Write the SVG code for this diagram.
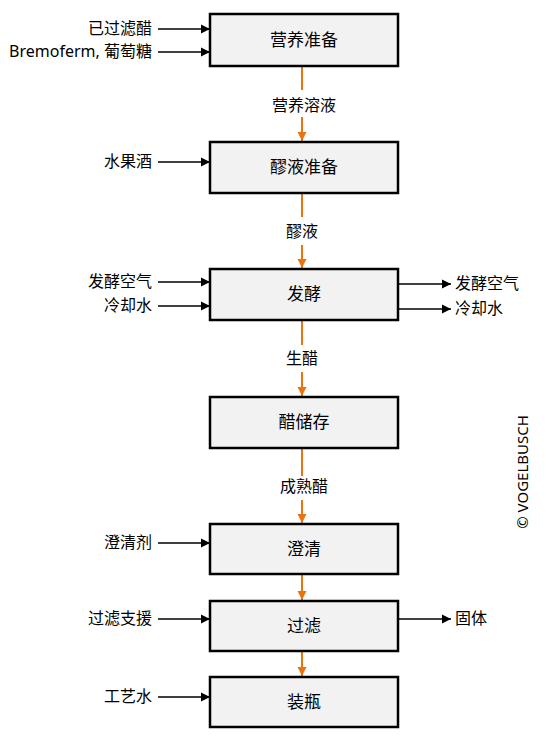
<svg xmlns="http://www.w3.org/2000/svg" width="546" height="740" viewBox="0 0 546 740">
<style>
.box{fill:#f2f2f2;stroke:#000;stroke-width:2.5}
.nt{font-family:"Noto Sans CJK SC","Noto Sans",sans-serif;font-size:17px;text-anchor:middle;fill:#000}
.lt{font-family:"Noto Sans","Noto Sans CJK SC",sans-serif;font-size:16px;text-anchor:end;fill:#000}
.rt{font-family:"Noto Sans CJK SC","Noto Sans",sans-serif;font-size:16px;text-anchor:start;fill:#000}
.ft{font-family:"Noto Sans CJK SC","Noto Sans",sans-serif;font-size:16px;text-anchor:middle;fill:#000}
.bl{stroke:#000;stroke-width:1.3;fill:none}
.or{stroke:#e8730f;stroke-width:2;fill:none}
</style>
<defs>
<marker id="ab" markerWidth="10" markerHeight="10" refX="9" refY="5" orient="auto" markerUnits="userSpaceOnUse" viewBox="0 0 10 10">
<path d="M0,0.5 L9,5 L0,9.5 Z" fill="#000"/>
</marker>
<marker id="ao" markerWidth="10" markerHeight="10" refX="9" refY="5" orient="auto" markerUnits="userSpaceOnUse" viewBox="0 0 10 10">
<path d="M0,0.5 L9,5 L0,9.5 Z" fill="#e8730f"/>
</marker>
</defs>
<g id="connectors">
<line class="bl" x1="158" y1="29" x2="210" y2="29" marker-end="url(#ab)"/>
<line class="bl" x1="158" y1="52" x2="210" y2="52" marker-end="url(#ab)"/>
<line class="bl" x1="158" y1="162" x2="210" y2="162" marker-end="url(#ab)"/>
<line class="bl" x1="158" y1="282" x2="210" y2="282" marker-end="url(#ab)"/>
<line class="bl" x1="158" y1="306" x2="210" y2="306" marker-end="url(#ab)"/>
<line class="bl" x1="398" y1="284" x2="451" y2="284" marker-end="url(#ab)"/>
<line class="bl" x1="398" y1="309" x2="451" y2="309" marker-end="url(#ab)"/>
<line class="bl" x1="158" y1="543" x2="210" y2="543" marker-end="url(#ab)"/>
<line class="bl" x1="158" y1="619" x2="210" y2="619" marker-end="url(#ab)"/>
<line class="bl" x1="398" y1="619" x2="451" y2="619" marker-end="url(#ab)"/>
<line class="bl" x1="158" y1="697" x2="210" y2="697" marker-end="url(#ab)"/>
<line class="or" x1="302" y1="66" x2="302" y2="90"/>
<line class="or" x1="302" y1="117" x2="302" y2="141" marker-end="url(#ao)"/>
<text class="ft" x="304" y="111">营养溶液</text>
<line class="or" x1="302" y1="193" x2="302" y2="217"/>
<line class="or" x1="302" y1="245" x2="302" y2="268" marker-end="url(#ao)"/>
<text class="ft" x="302" y="237">醪液</text>
<line class="or" x1="302" y1="320" x2="302" y2="345"/>
<line class="or" x1="302" y1="372" x2="302" y2="396" marker-end="url(#ao)"/>
<text class="ft" x="302" y="364">生醋</text>
<line class="or" x1="302" y1="448" x2="302" y2="476"/>
<line class="or" x1="302" y1="500" x2="302" y2="523" marker-end="url(#ao)"/>
<text class="ft" x="304" y="492">成熟醋</text>
<line class="or" x1="302" y1="574" x2="302" y2="600" marker-end="url(#ao)"/>
<line class="or" x1="302" y1="652" x2="302" y2="676" marker-end="url(#ao)"/>
</g>
<g id="inputs">
<text class="lt" x="152" y="34">已过滤醋</text>
<text class="lt" x="152" y="57">Bremoferm, 葡萄糖</text>
<text class="lt" x="152" y="167">水果酒</text>
<text class="lt" x="152" y="287">发酵空气</text>
<text class="lt" x="152" y="311">冷却水</text>
<text class="lt" x="152" y="548">澄清剂</text>
<text class="lt" x="152" y="624">过滤支援</text>
<text class="lt" x="152" y="702">工艺水</text>
<text class="rt" x="455" y="289">发酵空气</text>
<text class="rt" x="455" y="314">冷却水</text>
<text class="rt" x="455" y="624">固体</text>
</g>
<g id="n1"><rect class="box" x="210" y="14" width="188" height="52"/><text class="nt" x="304" y="46">营养准备</text></g>
<g id="n2"><rect class="box" x="210" y="142" width="188" height="51"/><text class="nt" x="304" y="173">醪液准备</text></g>
<g id="n3"><rect class="box" x="210" y="269" width="188" height="51"/><text class="nt" x="304" y="300">发酵</text></g>
<g id="n4"><rect class="box" x="210" y="397" width="188" height="51"/><text class="nt" x="304" y="428">醋储存</text></g>
<g id="n5"><rect class="box" x="210" y="524" width="188" height="50"/><text class="nt" x="304" y="555">澄清</text></g>
<g id="n6"><rect class="box" x="210" y="601" width="188" height="50"/><text class="nt" x="304" y="632">过滤</text></g>
<g id="n7"><rect class="box" x="210" y="677" width="188" height="50"/><text class="nt" x="304" y="708">装瓶</text></g>
<text font-family="Noto Sans, sans-serif" font-size="15" text-anchor="middle" fill="#000" transform="translate(528,472) rotate(-90)">© VOGELBUSCH</text>
</svg>
